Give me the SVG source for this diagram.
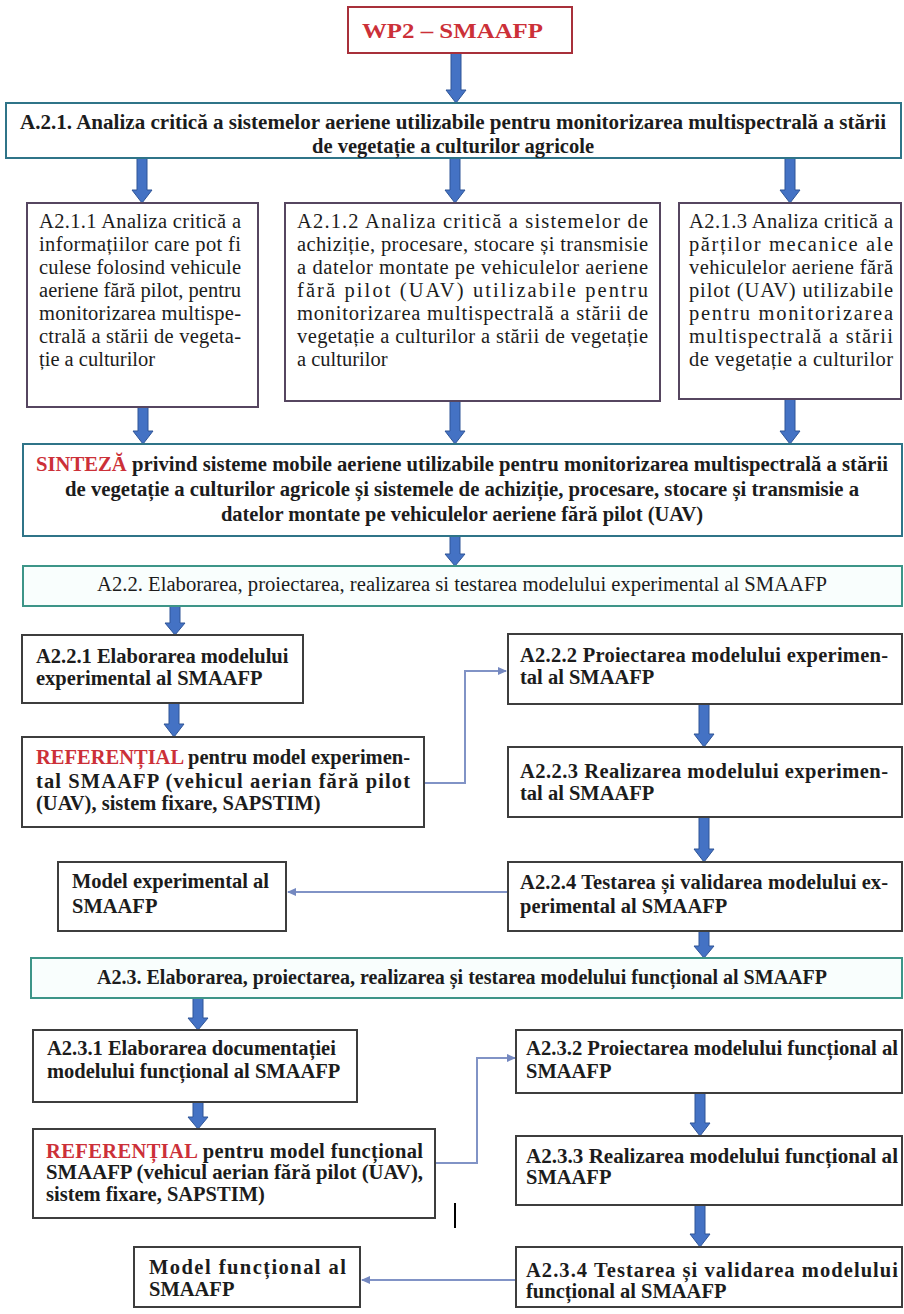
<svg xmlns="http://www.w3.org/2000/svg" width="904" height="1314" viewBox="0 0 904 1314">
<style>
.box{fill:#ffffff;stroke:#3d3d3d;stroke-width:2}
.wp{stroke:#a8303a}
.teal{stroke:#2f7488}
.green{stroke:#3d9588;fill:#f9fefd}
.purple{stroke:#564660}
.t{font-family:"Liberation Serif","Times New Roman",serif;font-size:20.5px;fill:#1c1c1c}
.b{font-weight:bold}
.red{fill:#cc3038}
.arr{fill:#4472c4;stroke:#2f5597;stroke-width:1}
.thin{fill:none;stroke:#8193c6;stroke-width:2}
</style>
<defs>
<marker id="ah" markerWidth="10" markerHeight="10" refX="8" refY="5" orient="auto" markerUnits="userSpaceOnUse">
<path d="M0,1 L9,5 L0,9 Z" fill="#7488c0"/>
</marker>
</defs>
<rect width="904" height="1314" fill="#ffffff"/>

<g id="connectors">
<polygon class="arr" points="451,53 461,53 461,90 466,90 456,103 446,90 451,90"/>
<polygon class="arr" points="137,158 147,158 147,190 152,190 142,203 132,190 137,190"/>
<polygon class="arr" points="450,158 460,158 460,190 465,190 455,203 445,190 450,190"/>
<polygon class="arr" points="785,158 795,158 795,190 800,190 790,203 780,190 785,190"/>
<polygon class="arr" points="138,407 148,407 148,431 153,431 143,444 133,431 138,431"/>
<polygon class="arr" points="450,401 460,401 460,431 465,431 455,444 445,431 450,431"/>
<polygon class="arr" points="785,399 795,399 795,431 800,431 790,444 780,431 785,431"/>
<polygon class="arr" points="450,536 460,536 460,554 465,554 455,566 445,554 450,554"/>
<polygon class="arr" points="170,606 180,606 180,623 185,623 175,635 165,623 170,623"/>
<polygon class="arr" points="169,703 179,703 179,724 184,724 174,737 164,724 169,724"/>
<polygon class="arr" points="699,704 709,704 709,734 714,734 704,747 694,734 699,734"/>
<polygon class="arr" points="699,817 709,817 709,849 714,849 704,862 694,849 699,849"/>
<polygon class="arr" points="699,931 709,931 709,946 714,946 704,958 694,946 699,946"/>
<polygon class="arr" points="193,998 203,998 203,1018 208,1018 198,1030 188,1018 193,1018"/>
<polygon class="arr" points="193,1102 203,1102 203,1117 208,1117 198,1129 188,1117 193,1117"/>
<polygon class="arr" points="695,1093 705,1093 705,1123 710,1123 700,1136 690,1123 695,1123"/>
<polygon class="arr" points="695,1205 705,1205 705,1234 710,1234 700,1247 690,1234 695,1234"/>
<polyline class="thin" points="424,783 465,783 465,671 506,671" marker-end="url(#ah)"/>
<polyline class="thin" points="507,892 288,892" marker-end="url(#ah)"/>
<polyline class="thin" points="435,1163 477,1163 477,1058 515,1058" marker-end="url(#ah)"/>
<polyline class="thin" points="516,1280 362,1280" marker-end="url(#ah)"/>
</g>

<g id="wp2">
<rect class="box wp" x="348" y="7" width="224" height="46"/>
<text class="t b red" x="362" y="38" font-size="22" textLength="181" lengthAdjust="spacingAndGlyphs">WP2 – SMAAFP</text>
</g>

<g id="a21">
<rect class="box teal" x="6" y="103" width="895" height="55"/>
<text class="t b" x="20" y="129" font-size="21" textLength="866" lengthAdjust="spacingAndGlyphs">A.2.1. Analiza critică a sistemelor aeriene utilizabile pentru monitorizarea multispectrală a stării</text>
<text class="t b" x="453" y="153" font-size="21" text-anchor="middle">de vegetație a culturilor agricole</text>
</g>

<g id="a211">
<rect class="box purple" x="27" y="203" width="231" height="204"/>
<text class="t" x="39" y="228" textLength="202" lengthAdjust="spacing">A2.1.1 Analiza critică a</text>
<text class="t" x="39" y="251" textLength="202" lengthAdjust="spacing">informațiilor care pot fi</text>
<text class="t" x="39" y="274" textLength="202" lengthAdjust="spacing">culese folosind vehicule</text>
<text class="t" x="39" y="297" textLength="202" lengthAdjust="spacing">aeriene fără pilot, pentru</text>
<text class="t" x="39" y="320" textLength="202" lengthAdjust="spacing">monitorizarea multispe-</text>
<text class="t" x="39" y="343" textLength="202" lengthAdjust="spacing">ctrală a stării de vegeta-</text>
<text class="t" x="39" y="366">ție a culturilor</text>
</g>

<g id="a212">
<rect class="box purple" x="285" y="203" width="375" height="198"/>
<text class="t" x="297" y="228" textLength="351" lengthAdjust="spacing">A2.1.2 Analiza critică a sistemelor de</text>
<text class="t" x="297" y="251" textLength="351" lengthAdjust="spacing">achiziție, procesare, stocare și transmisie</text>
<text class="t" x="297" y="274" textLength="351" lengthAdjust="spacing">a datelor montate pe vehiculelor aeriene</text>
<text class="t" x="297" y="297" textLength="351" lengthAdjust="spacing">fără pilot (UAV) utilizabile pentru</text>
<text class="t" x="297" y="320" textLength="351" lengthAdjust="spacing">monitorizarea multispectrală a stării de</text>
<text class="t" x="297" y="343" textLength="351" lengthAdjust="spacing">vegetație a culturilor a stării de vegetație</text>
<text class="t" x="297" y="366">a culturilor</text>
</g>

<g id="a213">
<rect class="box purple" x="679" y="203" width="222" height="196"/>
<text class="t" x="689" y="228" textLength="204" lengthAdjust="spacing">A2.1.3 Analiza critică a</text>
<text class="t" x="689" y="251" textLength="204" lengthAdjust="spacing">părților mecanice ale</text>
<text class="t" x="689" y="274" textLength="204" lengthAdjust="spacing">vehiculelor aeriene fără</text>
<text class="t" x="689" y="297" textLength="204" lengthAdjust="spacing">pilot (UAV) utilizabile</text>
<text class="t" x="689" y="320" textLength="204" lengthAdjust="spacing">pentru monitorizarea</text>
<text class="t" x="689" y="343" textLength="204" lengthAdjust="spacing">multispectrală a stării</text>
<text class="t" x="689" y="366" textLength="204" lengthAdjust="spacing">de vegetație a culturilor</text>
</g>

<g id="sinteza">
<rect class="box teal" x="23" y="444" width="879" height="92"/>
<text class="t b" x="36" y="471" textLength="852" lengthAdjust="spacingAndGlyphs"><tspan class="red">SINTEZĂ</tspan> privind sisteme mobile aeriene utilizabile pentru monitorizarea multispectrală a stării</text>
<text class="t b" x="65" y="496" textLength="794" lengthAdjust="spacingAndGlyphs">de vegetație a culturilor agricole și sistemele de achiziție, procesare, stocare și transmisie a</text>
<text class="t b" x="462" y="521" text-anchor="middle">datelor montate pe vehiculelor aeriene fără pilot (UAV)</text>
</g>

<g id="a22">
<rect class="box green" x="23" y="566" width="879" height="40"/>
<text class="t" x="97" y="591" textLength="730" lengthAdjust="spacingAndGlyphs">A2.2. Elaborarea, proiectarea, realizarea si testarea modelului experimental al SMAAFP</text>
</g>

<g id="a221">
<rect class="box" x="22" y="635" width="281" height="68"/>
<text class="t b" x="36" y="663">A2.2.1 Elaborarea modelului</text>
<text class="t b" x="36" y="685">experimental al SMAAFP</text>
</g>

<g id="ref1">
<rect class="box" x="22" y="737" width="402" height="90"/>
<text class="t b" x="36" y="764" textLength="374" lengthAdjust="spacing"><tspan class="red">REFERENȚIAL</tspan> pentru model experimen-</text>
<text class="t b" x="36" y="788" textLength="374" lengthAdjust="spacing">tal SMAAFP (vehicul aerian fără pilot</text>
<text class="t b" x="36" y="810">(UAV), sistem fixare, SAPSTIM)</text>
</g>

<g id="a222">
<rect class="box" x="508" y="634" width="394" height="70"/>
<text class="t b" x="520" y="662" textLength="368" lengthAdjust="spacing">A2.2.2 Proiectarea modelului experimen-</text>
<text class="t b" x="520" y="684">tal al SMAAFP</text>
</g>

<g id="a223">
<rect class="box" x="508" y="747" width="394" height="70"/>
<text class="t b" x="520" y="778" textLength="368" lengthAdjust="spacing">A2.2.3 Realizarea modelului experimen-</text>
<text class="t b" x="520" y="800">tal al SMAAFP</text>
</g>

<g id="modelexp">
<rect class="box" x="58" y="862" width="228" height="69"/>
<text class="t b" x="72" y="888">Model experimental al</text>
<text class="t b" x="72" y="913">SMAAFP</text>
</g>

<g id="a224">
<rect class="box" x="508" y="862" width="394" height="69"/>
<text class="t b" x="520" y="889" textLength="368" lengthAdjust="spacing">A2.2.4 Testarea și validarea modelului ex-</text>
<text class="t b" x="520" y="913">perimental al SMAAFP</text>
</g>

<g id="a23">
<rect class="box green" x="31" y="958" width="871" height="40"/>
<text class="t b" x="97" y="984" textLength="730" lengthAdjust="spacingAndGlyphs">A2.3. Elaborarea, proiectarea, realizarea și testarea modelului funcțional al SMAAFP</text>
</g>

<g id="a231">
<rect class="box" x="33" y="1030" width="324" height="72"/>
<text class="t b" x="47" y="1055">A2.3.1 Elaborarea documentației</text>
<text class="t b" x="47" y="1078">modelului funcțional al SMAAFP</text>
</g>

<g id="a232">
<rect class="box" x="516" y="1030" width="386" height="63"/>
<text class="t b" x="526" y="1055" textLength="372" lengthAdjust="spacingAndGlyphs">A2.3.2 Proiectarea modelului funcțional al</text>
<text class="t b" x="526" y="1078">SMAAFP</text>
</g>

<g id="ref2">
<rect class="box" x="33" y="1129" width="402" height="89"/>
<text class="t b" x="46" y="1158" textLength="377" lengthAdjust="spacing"><tspan class="red">REFERENȚIAL</tspan> pentru model funcțional</text>
<text class="t b" x="46" y="1179" textLength="377" lengthAdjust="spacingAndGlyphs">SMAAFP (vehicul aerian fără pilot (UAV),</text>
<text class="t b" x="46" y="1201">sistem fixare, SAPSTIM)</text>
</g>

<g id="a233">
<rect class="box" x="516" y="1136" width="386" height="69"/>
<text class="t b" x="526" y="1163" textLength="372" lengthAdjust="spacingAndGlyphs">A2.3.3 Realizarea modelului funcțional al</text>
<text class="t b" x="526" y="1184">SMAAFP</text>
</g>

<g id="modelfunc">
<rect class="box" x="134" y="1247" width="226" height="60"/>
<text class="t b" x="149" y="1274" textLength="197" lengthAdjust="spacing">Model funcțional al</text>
<text class="t b" x="149" y="1296">SMAAFP</text>
</g>

<g id="a234">
<rect class="box" x="516" y="1247" width="386" height="60"/>
<text class="t b" x="526" y="1277" textLength="372" lengthAdjust="spacing">A2.3.4 Testarea și validarea modelului</text>
<text class="t b" x="526" y="1298">funcțional al SMAAFP</text>
</g>

<line x1="455" y1="1203" x2="455" y2="1228" stroke="#000000" stroke-width="2"/>
</svg>
